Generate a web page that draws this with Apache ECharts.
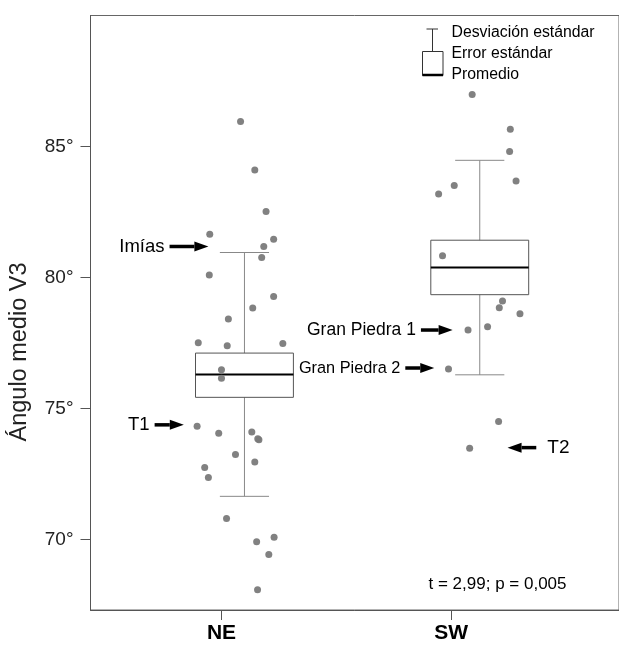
<!DOCTYPE html>
<html>
<head>
<meta charset="utf-8">
<title>Ángulo medio V3</title>
<style>
html, body { margin: 0; padding: 0; background: #fff; }
#chart { width: 619px; height: 646px; }
</style>
<script src="https://cdn.jsdelivr.net/npm/echarts@6/dist/echarts.min.js"></script>
</head>
<body>
<div id="chart"></div>
<script>
var groups = ['NE', 'SW'];
var groupPos = [1, 2];
var yTicks = [70, 75, 80, 85];

// [center x, whisker low, box low, mean, box high, whisker high]
var boxNE = [1.10, 71.64, 75.42, 76.29, 77.11, 80.95];
var boxSW = [2.124, 76.28, 79.34, 80.38, 81.42, 84.47];

// jittered x, angle
var pointsNE = [
	[1.083, 85.95], [1.145, 84.10], [1.194, 82.52], [0.949, 81.65], [1.227, 81.46],
	[1.184, 81.18], [1.175, 80.76], [0.947, 80.09], [1.227, 79.27], [1.136, 78.83],
	[1.030, 78.41], [0.899, 77.50], [1.025, 77.39], [1.267, 77.48], [1.000, 76.47],
	[1.000, 76.15], [0.894, 74.32], [0.988, 74.05], [1.132, 74.10], [1.158, 73.84],
	[1.163, 73.80], [1.061, 73.24], [1.145, 72.95], [0.927, 72.74], [0.943, 72.36],
	[1.022, 70.79], [1.229, 70.08], [1.153, 69.91], [1.206, 69.42], [1.157, 68.07]
];
var pointsSW = [
	[2.091, 86.98], [2.257, 85.66], [2.254, 84.81], [2.282, 83.68], [2.013, 83.51],
	[1.945, 83.18], [1.962, 80.83], [2.223, 79.10], [2.209, 78.84], [2.299, 78.61],
	[2.158, 78.12], [2.073, 77.99], [1.988, 76.50], [2.206, 74.50], [2.080, 73.48]
];

var arrowLabels = ['Imías', 'T1', 'Gran Piedra 1', 'Gran Piedra 2', 'T2'];
var arrowTail = [[0.774, 81.18], [0.709, 74.37], [1.868, 77.99], [1.800, 76.54], [2.370, 73.50]];
var arrowHead = [[0.943, 81.18], [0.836, 74.37], [2.006, 77.99], [1.926, 76.54], [2.245, 73.50]];
var arrowFont = [18.5, 18.5, 17.5, 16.3, 19];

var legendTexts = ['Desviación estándar', 'Error estándar', 'Promedio'];
var statText = 't = 2,99; p = 0,005';
var yName = 'Ángulo medio V3';

var font = '"Liberation Sans", Arial, sans-serif';
var chart = echarts.init(document.getElementById('chart'));

function renderBox(params, api) {
	var x = api.value(0);
	var half = 0.213, cap = 0.107;
	var wLo = api.coord([x, api.value(1)]);
	var bLo = api.coord([x - half, api.value(2)]);
	var mean = api.coord([x - half, api.value(3)]);
	var bHi = api.coord([x + half, api.value(4)]);
	var wHi = api.coord([x, api.value(5)]);
	var capL = api.coord([x - cap, 0])[0];
	var capR = api.coord([x + cap, 0])[0];
	var lineStyle = { stroke: '#888', lineWidth: 1, fill: null };
	return {
		type: 'group',
		children: [
			{ type: 'line', shape: { x1: wHi[0], y1: wHi[1], x2: wHi[0], y2: bHi[1] }, style: lineStyle },
			{ type: 'line', shape: { x1: wLo[0], y1: bLo[1], x2: wLo[0], y2: wLo[1] }, style: lineStyle },
			{ type: 'line', shape: { x1: capL, y1: wHi[1], x2: capR, y2: wHi[1] }, style: lineStyle },
			{ type: 'line', shape: { x1: capL, y1: wLo[1], x2: capR, y2: wLo[1] }, style: lineStyle },
			{ type: 'rect', shape: { x: bLo[0], y: bHi[1], width: bHi[0] - bLo[0], height: bLo[1] - bHi[1] },
				style: { stroke: '#555', lineWidth: 1, fill: 'none' } },
			{ type: 'line', shape: { x1: bLo[0], y1: mean[1], x2: bHi[0], y2: mean[1] },
				style: { stroke: '#000', lineWidth: 2 } }
		]
	};
}

function renderArrow(params, api) {
	var i = params.dataIndex;
	var tail = api.coord([api.value(0), api.value(1)]);
	var head = api.coord([api.value(2), api.value(3)]);
	var dir = head[0] > tail[0] ? 1 : -1;
	var hl = 14, hh = 5;
	var base = head[0] - dir * hl;
	var label = arrowLabels[i];
	var textX = dir > 0 ? tail[0] - 5 : tail[0] + 11;
	return {
		type: 'group',
		children: [
			{ type: 'line', shape: { x1: tail[0], y1: tail[1], x2: base, y2: head[1] },
				style: { stroke: '#000', lineWidth: 3.5 } },
			{ type: 'polygon', shape: { points: [[head[0], head[1]], [base, head[1] - hh], [base, head[1] + hh]] },
				style: { fill: '#000' } },
			{ type: 'text', x: textX, y: tail[1],
				style: { text: label, fill: '#000', font: arrowFont[i] + 'px ' + font,
					align: dir > 0 ? 'right' : 'left', verticalAlign: 'middle' } }
		]
	};
}

var arrowData = arrowTail.map(function (t, i) {
	return [t[0], t[1], arrowHead[i][0], arrowHead[i][1]];
});

var lx = 422.5, ly = 29;
chart.setOption({
	animation: false,
	grid: { left: 90.5, top: 15.5, right: -5, bottom: 36, show: true, borderColor: '#666', borderWidth: 1 },
	xAxis: {
		type: 'value', min: 0.43, max: 2.73,
		axisLine: { show: true, onZero: false, lineStyle: { color: '#555' } },
		axisTick: { show: true, length: 10, customValues: groupPos, lineStyle: { color: '#555' } },
		axisLabel: {
			customValues: groupPos, margin: 13, color: '#000',
			fontFamily: font, fontSize: 21, fontWeight: 'bold',
			formatter: function (v) { return groups[groupPos.indexOf(Math.round(v))] || ''; }
		},
		splitLine: { show: false }
	},
	yAxis: {
		type: 'value', min: 67.3, max: 90,
		axisLine: { show: true, lineStyle: { color: '#555' } },
		axisTick: { show: true, length: 10, customValues: yTicks, lineStyle: { color: '#555' } },
		axisLabel: {
			customValues: yTicks, margin: 17, color: '#222',
			fontFamily: font, fontSize: 19,
			formatter: '{value}°'
		},
		splitLine: { show: false }
	},
	series: [
		{ type: 'custom', renderItem: renderBox, data: [boxNE, boxSW], z: 1, silent: true },
		{ type: 'scatter', data: pointsNE.concat(pointsSW), symbolSize: 7, z: 3,
			itemStyle: { color: '#7a7a7a', opacity: 0.95 } },
		{ type: 'custom', renderItem: renderArrow, data: arrowData, z: 4, silent: true }
	],
	graphic: [
		{ type: 'line', shape: { x1: lx + 4, y1: ly, x2: lx + 15.5, y2: ly }, style: { stroke: '#333', lineWidth: 1 } },
		{ type: 'line', shape: { x1: lx + 10, y1: ly, x2: lx + 10, y2: ly + 22.5 }, style: { stroke: '#333', lineWidth: 1 } },
		{ type: 'rect', shape: { x: lx, y: ly + 22.5, width: 20.5, height: 24 }, style: { stroke: '#333', fill: '#fff', lineWidth: 1 } },
		{ type: 'line', shape: { x1: lx, y1: ly + 46, x2: lx + 20.5, y2: ly + 46 }, style: { stroke: '#000', lineWidth: 2.5 } },
		{ type: 'text', x: 451.5, y: 33, style: { text: legendTexts[0], font: '15.8px ' + font, fill: '#000', verticalAlign: 'middle' } },
		{ type: 'text', x: 451.5, y: 53.5, style: { text: legendTexts[1], font: '15.8px ' + font, fill: '#000', verticalAlign: 'middle' } },
		{ type: 'text', x: 451.5, y: 74.5, style: { text: legendTexts[2], font: '15.8px ' + font, fill: '#000', verticalAlign: 'middle' } },
		{ type: 'text', x: 566.5, y: 584, style: { text: statText, font: '17px ' + font, fill: '#000', align: 'right', verticalAlign: 'middle' } },
		{ type: 'text', x: 20, y: 352, rotation: Math.PI / 2,
			style: { text: yName, font: '23.5px ' + font, fill: '#222', align: 'center', verticalAlign: 'middle' } }
	]
});
</script>
</body>
</html>
